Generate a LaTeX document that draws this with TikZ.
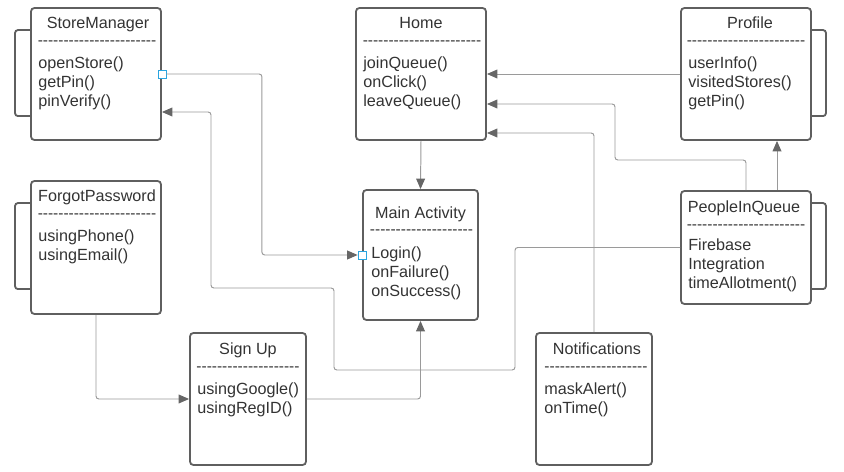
\documentclass[tikz,border=0pt]{standalone}
\usepackage{fontspec}
\setmainfont{Liberation Sans}[Ligatures=TeXOff]
\usetikzlibrary{arrows.meta, positioning, calc}
\definecolor{boxline}{HTML}{5F5F5F}
\definecolor{textgray}{HTML}{333333}
\definecolor{linkgray}{HTML}{9A9A9A}
\definecolor{tipgray}{HTML}{666666}
\definecolor{portblue}{HTML}{2AA5E0}
\tikzset{
  classbox/.style={draw=boxline, line width=1.3pt, rounded corners=2.5pt, inner sep=0pt},
  boxtitle/.style={anchor=base, inner sep=0pt, text=textgray, font=\fontsize{11.5}{13.5}\selectfont},
  dashrow/.style={inner sep=0pt, text=textgray, font=\fontsize{11}{13.5}\selectfont},
  methods/.style={anchor=north west, align=left, inner sep=0pt, text=textgray, font=\fontsize{11.5}{13.5}\selectfont},
  bracket/.style={draw=boxline, line width=1.3pt, rounded corners=2pt},
  link/.style={draw=linkgray, line width=0.7pt, rounded corners=2pt, -{Triangle[length=2.6mm, width=2.2mm, color=tipgray]}},
  port/.style={draw=portblue, fill=white, line width=0.6pt, minimum size=0.2cm, inner sep=0pt}
}
\begin{document}
\begin{tikzpicture}[x=0.025cm, y=-0.025cm]
\useasboundingbox (0,0) rectangle (844,472);
% class boxes
\node[classbox, minimum width=3.25cm, minimum height=3.3cm] (sm) at (96,74) {};
\node[classbox, minimum width=3.25cm, minimum height=3.3cm] (home) at (421,74) {};
\node[classbox, minimum width=3.25cm, minimum height=3.3cm] (profile) at (746,74) {};
\node[classbox, minimum width=3.25cm, minimum height=3.325cm] (fp) at (96,247.5) {};
\node[classbox, minimum width=2.875cm, minimum height=3.25cm] (main) at (420.5,255) {};
\node[classbox, minimum width=3.25cm, minimum height=2.825cm] (piq) at (746,247.5) {};
\node[classbox, minimum width=2.9cm, minimum height=3.3cm] (su) at (248,399) {};
\node[classbox, minimum width=2.9cm, minimum height=3.3cm] (notif) at (594,399) {};
% side brackets
\draw[bracket] ($(sm.north west)+(0,23)$) -- ++(-15,0) -- ++(0,86) -- ++(15,0);
\draw[bracket] ($(fp.north west)+(0,23)$) -- ++(-15,0) -- ++(0,86) -- ++(15,0);
\draw[bracket] ($(profile.north east)+(0,23)$) -- ++(14,0) -- ++(0,86) -- ++(-14,0);
\draw[bracket] ($(piq.north east)+(0,13)$) -- ++(14,0) -- ++(0,86) -- ++(-14,0);
% texts
\node[boxtitle] (smT) at ($(sm.north)+(2,21.5)$) {StoreManager};
\node[dashrow] (smD) at ($(sm.north)+(1,36)$) {-----------------------};
\node[methods] (smM) at ($(sm.north west)+(8,49.5)$) {openStore()\\getPin()\\pinVerify()};
\node[boxtitle] (homeT) at ($(home.north)+(0,21.5)$) {Home};
\node[dashrow] (homeD) at ($(home.north)+(1,36)$) {-----------------------};
\node[methods] (homeM) at ($(home.north west)+(8,49.5)$) {joinQueue()\\onClick()\\leaveQueue()};
\node[boxtitle] (profileT) at ($(profile.north)+(4,21.5)$) {Profile};
\node[dashrow] (profileD) at ($(profile.north)+(0,36)$) {-----------------------};
\node[methods] (profileM) at ($(profile.north west)+(8,49.5)$) {userInfo()\\visitedStores()\\getPin()};
\node[boxtitle] (fpT) at ($(fp.north)+(1,21.5)$) {ForgotPassword};
\node[dashrow] (fpD) at ($(fp.north)+(1,36)$) {-----------------------};
\node[methods] (fpM) at ($(fp.north west)+(8,49.5)$) {usingPhone()\\usingEmail()};
\node[boxtitle] (mainT) at ($(main.north)+(0,29.5)$) {Main Activity};
\node[dashrow] (mainD) at ($(main.north)+(1,43)$) {--------------------};
\node[methods] (mainM) at ($(main.north west)+(9,57.5)$) {Login()\\onFailure()\\onSuccess()};
\node[boxtitle] (piqT) at ($(piq.north)+(-2,22.5)$) {PeopleInQueue};
\node[dashrow] (piqD) at ($(piq.north)+(0,37)$) {-----------------------};
\node[methods] (piqM) at ($(piq.north west)+(8,48.5)$) {Firebase\\Integration\\timeAllotment()};
\node[boxtitle] (suT) at ($(su.north)+(0,22.5)$) {Sign Up};
\node[dashrow] (suD) at ($(su.north)+(0,37)$) {--------------------};
\node[methods] (suM) at ($(su.north west)+(8,50.5)$) {usingGoogle()\\usingRegID()};
\node[boxtitle] (notifT) at ($(notif.north)+(3,22.5)$) {Notifications};
\node[dashrow] (notifD) at ($(notif.north)+(2,37)$) {--------------------};
\node[methods] (notifM) at ($(notif.north west)+(9,50.5)$) {maskAlert()\\onTime()};
% connectors
\node[port] (smPort) at (sm.east) {};
\node[port] (mainPort) at (main.west) {};
\draw[link] (smPort) -- ++(100,0) |- (mainPort);
\draw[link] (home.south) -- (main.north);
\draw[link] (profile.west) -- (home.east);
\draw[link] (piq.north) |- (615,160) |- ($(home.east)+(0,30)$);
\draw[link] ($(piq.north)+(31,0)$) -- ($(profile.south)+(31,0)$);
\draw[link] (notif.north) |- ($(home.east)+(0,59)$);
\draw[link] (piq.west) -| (515,370) -| (334,288) -| (211,112) -- ($(sm.east)+(0,38)$);
\draw[link] (fp.south) |- (su.west);
\draw[link] (su.east) -| (main.south);
\end{tikzpicture}
\end{document}
